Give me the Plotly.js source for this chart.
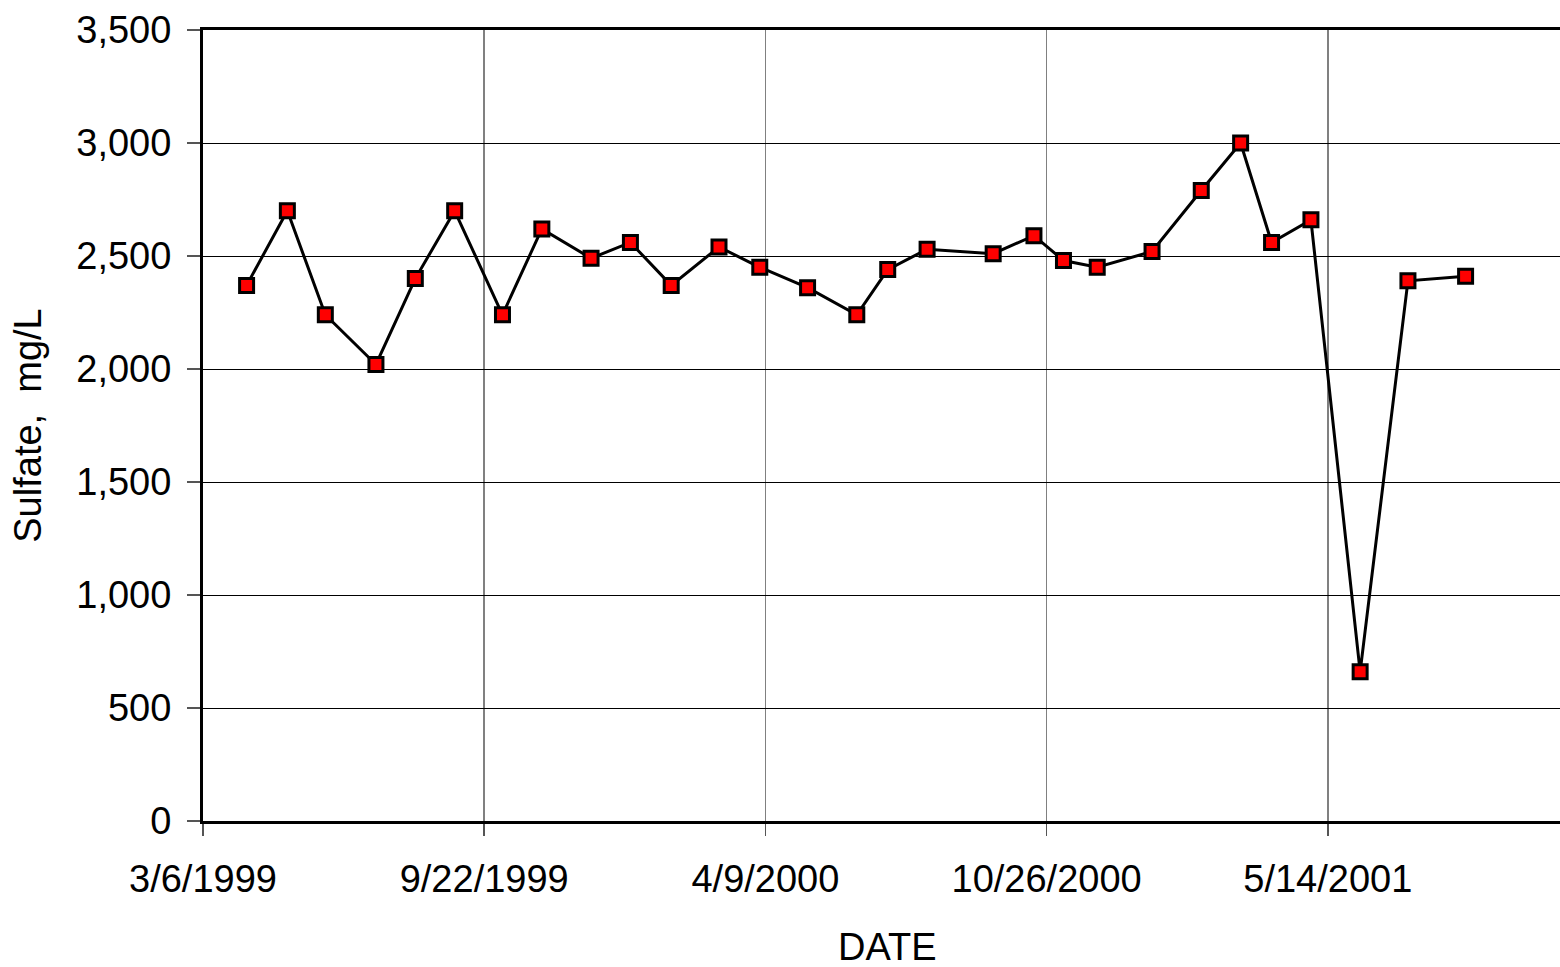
<!DOCTYPE html>
<html>
<head>
<meta charset="utf-8">
<script src="https://cdn.plot.ly/plotly-3.0.1.min.js"></script>
<style>
html, body { margin: 0; padding: 0; overflow: hidden; background: #fff; width: 1560px; height: 967px; }
#chart { width: 1619px; height: 967px; }
</style>
</head>
<body>
<div id="chart"></div>
<script>
// Sample dates and sulfate concentrations (mg/L)
const dates = [
  '1999-04-06', '1999-05-05', '1999-06-01', '1999-07-07', '1999-08-04',
  '1999-09-01', '1999-10-05', '1999-11-02', '1999-12-07', '2000-01-04',
  '2000-02-02', '2000-03-07', '2000-04-05', '2000-05-09', '2000-06-13',
  '2000-07-05', '2000-08-02', '2000-09-18', '2000-10-17', '2000-11-07',
  '2000-12-01', '2001-01-09', '2001-02-13', '2001-03-13', '2001-04-04',
  '2001-05-02', '2001-06-06', '2001-07-10', '2001-08-20'
];
const sulfate = [
  2370, 2700, 2240, 2020, 2400,
  2700, 2240, 2620, 2490, 2560,
  2370, 2540, 2450, 2360, 2240,
  2440, 2530, 2510, 2590, 2480,
  2450, 2520, 2790, 3000, 2560,
  2660, 660, 2390, 2410
];
// X-axis ticks (every 200 days)
const xTickVals = ['1999-03-06', '1999-09-22', '2000-04-09', '2000-10-26', '2001-05-14'];
const xTickText = ['3/6/1999', '9/22/1999', '4/9/2000', '10/26/2000', '5/14/2001'];
const xRange = ['1999-03-06', '2001-11-30'];
const yRange = [0, 3500];

const font = 'Liberation Sans, Arial, sans-serif';

const trace = {
  x: dates,
  y: sulfate,
  type: 'scatter',
  mode: 'lines+markers',
  line: { color: '#000', width: 3 },
  marker: { symbol: 'square', size: 14, color: '#ff0000', line: { color: '#000', width: 3 } },
  hoverinfo: 'skip'
};

const layout = {
  width: 1619,
  height: 967,
  margin: { l: 203, r: 10, t: 30, b: 146 },
  paper_bgcolor: '#fff',
  plot_bgcolor: '#fff',
  showlegend: false,
  font: { family: font, color: '#000', size: 38 },
  xaxis: {
    type: 'date',
    range: xRange,
    tickmode: 'array',
    tickvals: xTickVals,
    ticktext: xTickText,
    ticks: 'outside',
    ticklen: 12,
    tickwidth: 1.5,
    tickcolor: '#555',
    ticklabelstandoff: 10,
    showgrid: true,
    gridcolor: '#808080',
    gridwidth: 1.5,
    showline: true,
    linecolor: '#000',
    linewidth: 3,
    mirror: true,
    zeroline: false,
    tickfont: { family: font, size: 38, color: '#000' },
    automargin: false
  },
  yaxis: {
    range: yRange,
    dtick: 500,
    tick0: 0,
    tickformat: ',d',
    ticks: 'outside',
    ticklen: 13,
    tickwidth: 1.5,
    tickcolor: '#555',
    ticklabelstandoff: 8,
    showgrid: true,
    gridcolor: '#000',
    gridwidth: 1,
    showline: true,
    linecolor: '#000',
    linewidth: 3,
    zeroline: false,
    tickfont: { family: font, size: 38, color: '#000' },
    title: { text: 'Sulfate,  mg/L', font: { family: font, size: 38, color: '#000' }, standoff: 24 },
    automargin: false
  },
  annotations: [{
    text: 'DATE',
    xref: 'paper', yref: 'paper',
    x: 0.4867, y: 0,
    xanchor: 'center', yanchor: 'middle',
    yshift: -126,
    showarrow: false,
    font: { family: font, size: 38, color: '#000' }
  }]
};

Plotly.newPlot('chart', [trace], layout, { staticPlot: true, displayModeBar: false, responsive: false });
</script>
</body>
</html>
